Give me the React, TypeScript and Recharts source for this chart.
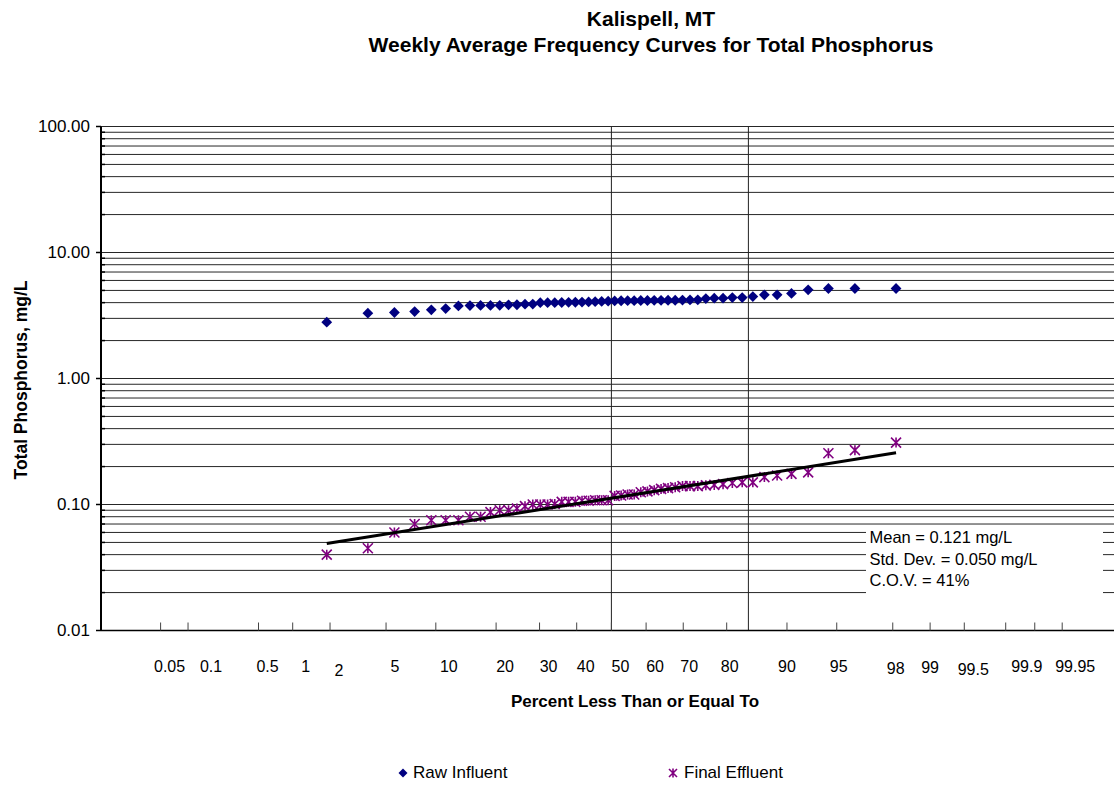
import React from "react";
import { ScatterChart, Scatter, XAxis, YAxis, CartesianGrid, ReferenceLine } from "recharts";

// ---- Data ----
const RAW_INFLUENT = [
  2.80, 3.30, 3.34, 3.40, 3.51, 3.59, 3.77, 3.79, 3.80, 3.80,
  3.81, 3.84, 3.85, 3.89, 3.90, 4.00, 4.00, 4.00, 4.01, 4.02,
  4.03, 4.04, 4.05, 4.07, 4.09, 4.11, 4.13, 4.14, 4.15, 4.15,
  4.16, 4.16, 4.17, 4.17, 4.18, 4.18, 4.19, 4.20, 4.21, 4.31,
  4.34, 4.34, 4.39, 4.39, 4.47, 4.61, 4.61, 4.73, 5.06, 5.18,
  5.18, 5.18,
];
const FINAL_EFFLUENT = [
  0.040, 0.045, 0.060, 0.070, 0.075, 0.075, 0.075, 0.080, 0.080, 0.087,
  0.090, 0.090, 0.093, 0.097, 0.100, 0.100, 0.100, 0.101, 0.105, 0.105,
  0.105, 0.107, 0.107, 0.108, 0.108, 0.108, 0.117, 0.118, 0.120, 0.120,
  0.125, 0.127, 0.130, 0.133, 0.135, 0.137, 0.140, 0.140, 0.140, 0.142,
  0.143, 0.145, 0.148, 0.150, 0.150, 0.165, 0.170, 0.175, 0.180, 0.255,
  0.270, 0.310,
];
// fitted line endpoints (at first and last rank)
const TREND_RANKS = [1, 52];
const TREND_VALUES = [0.049, 0.257];

const X_TICK_PERCENTS = [0.05, 0.1, 0.5, 1, 2, 5, 10, 20, 30, 40, 50, 60, 70, 80, 90, 95, 98, 99, 99.5, 99.8, 99.9, 99.95];
const X_TICK_LABELS = ["0.05", "0.1", "0.5", "1", "2", "5", "10", "20", "30", "40", "50", "60", "70", "80", "90", "95", "98", "99", "99.5", "", "99.9", "99.95"];
const VERTICAL_LINE_PERCENTS = [50, 84.1345];
const Y_DECADES = [0.01, 0.1, 1, 10, 100];
const Y_MINOR_MULTIPLIERS = [2, 3, 4, 5, 6, 7, 8, 9];
const STATS_LINES = ["Mean = 0.121 mg/L", "Std. Dev. = 0.050 mg/L", "C.O.V. = 41%"];

// label placement styling (offsets of each tick label from its tick, px)
const LABEL_DX: Record<string, number> = { "0.1": 23, "1": 13, "10": 13, "70": 6, "80": 3, "90": 0, "95": 2, "98": 3, "99": 0, "99.9": -8, "99.95": 13 };
const LABEL_DY: Record<string, number> = { "2": 4, "98": 2, "99": 1, "99.5": 3 };

// ---- probability scale helper (inverse standard normal CDF, Acklam) ----
function invNorm(p: number): number {
  const a = [-3.969683028665376e1, 2.209460984245205e2, -2.759285104469687e2, 1.38357751867269e2, -3.066479806614716e1, 2.506628277459239];
  const b = [-5.447609879822406e1, 1.615858368580409e2, -1.556989798598866e2, 6.680131188771972e1, -1.328068155288572e1];
  const c = [-7.784894002430293e-3, -3.223964580411365e-1, -2.400758277161838, -2.549732539343734, 4.374664141464968, 2.938163982698783];
  const d = [7.784695709041462e-3, 3.224671290700398e-1, 2.445134137142996, 3.754408661907416];
  const plow = 0.02425;
  if (p < plow) {
    const q = Math.sqrt(-2 * Math.log(p));
    return (((((c[0] * q + c[1]) * q + c[2]) * q + c[3]) * q + c[4]) * q + c[5]) / ((((d[0] * q + d[1]) * q + d[2]) * q + d[3]) * q + 1);
  }
  if (p <= 1 - plow) {
    const q = p - 0.5;
    const r = q * q;
    return ((((((a[0] * r + a[1]) * r + a[2]) * r + a[3]) * r + a[4]) * r + a[5]) * q) / (((((b[0] * r + b[1]) * r + b[2]) * r + b[3]) * r + b[4]) * r + 1);
  }
  const q = Math.sqrt(-2 * Math.log(1 - p));
  return -(((((c[0] * q + c[1]) * q + c[2]) * q + c[3]) * q + c[4]) * q + c[5]) / ((((d[0] * q + d[1]) * q + d[2]) * q + d[3]) * q + 1);
}

const rankZ = (rank: number, n: number) => invNorm(rank / (n + 1));

const rawData = RAW_INFLUENT.map((v, i) => ({ x: rankZ(i + 1, RAW_INFLUENT.length), y: v }));
const effData = FINAL_EFFLUENT.map((v, i) => ({ x: rankZ(i + 1, FINAL_EFFLUENT.length), y: v }));
const trendData = TREND_RANKS.map((r, i) => ({ x: rankZ(r, FINAL_EFFLUENT.length), y: TREND_VALUES[i] }));

const xTicks = X_TICK_PERCENTS.map((p) => invNorm(p / 100));
const yTicks: number[] = [];
Y_DECADES.forEach((d, i) => {
  yTicks.push(d);
  if (i < Y_DECADES.length - 1) Y_MINOR_MULTIPLIERS.forEach((m) => yTicks.push(+(d * m).toPrecision(3)));
});

const FONT = '"Liberation Sans", Arial, Helvetica, sans-serif';
const RAW_COLOR = "#000080";
const EFF_COLOR = "#800080";

const Diamond = (props: any) => {
  const { cx, cy } = props;
  if (cx == null || cy == null) return null;
  const s = 5.4;
  return <polygon points={`${cx},${cy - s} ${cx + s},${cy} ${cx},${cy + s} ${cx - s},${cy}`} fill={RAW_COLOR} />;
};

const Asterisk = (props: any) => {
  const { cx, cy } = props;
  if (cx == null || cy == null) return null;
  const s = 5;
  return (
    <path
      d={`M${cx - s},${cy - s}L${cx + s},${cy + s}M${cx - s},${cy + s}L${cx + s},${cy - s}M${cx},${cy - s}L${cx},${cy + s}`}
      stroke={EFF_COLOR}
      strokeWidth={1.6}
      fill="none"
    />
  );
};

const NoShape = () => null;

const YTick = (props: any) => {
  const { x, y, payload } = props;
  const v = payload.value;
  const isDecade = Y_DECADES.some((d) => Math.abs(d - v) < 1e-9);
  if (isDecade) {
    return (
      <g>
        <line x1={x - 5} y1={y} x2={x} y2={y} stroke="#000" strokeWidth={1.5} />
        <text x={x - 11} y={y} textAnchor="end" dominantBaseline="central" fontFamily={FONT} fontSize={17} fill="#000">
          {v.toFixed(2)}
        </text>
      </g>
    );
  }
  return <line x1={x} y1={y} x2={x + 4} y2={y} stroke="#000" strokeWidth={1.5} />;
};

const XTick = (props: any) => {
  const { x, y, index } = props;
  const label = X_TICK_LABELS[index] ?? "";
  const dx = LABEL_DX[label] ?? 9;
  const dy = LABEL_DY[label] ?? 0;
  return (
    <g>
      <line x1={x} y1={y} x2={x} y2={y - 8} stroke="#444" strokeWidth={1} />
      {label ? (
        <text x={x + dx} y={y + 35.5 + dy} textAnchor="middle" dominantBaseline="central" fontFamily={FONT} fontSize={16} fill="#000">
          {label}
        </text>
      ) : null}
    </g>
  );
};

export default function App() {
  const W = 1114;
  const H = 785;
  const plotTop = 126.5;
  const plotBottom = 630.5;
  const plotLeft = 101;
  const xAxisHeight = 40;
  const pxPerZ = 137;
  const zZeroPx = 611.4;
  const xMin = (plotLeft - zZeroPx) / pxPerZ;
  const xMax = (W - zZeroPx) / pxPerZ;

  return (
    <div style={{ position: "absolute", left: 0, top: 0, width: W, height: H, background: "#fff", fontFamily: FONT, overflow: "hidden" }}>
      <ScatterChart width={W} height={H} margin={{ top: plotTop, right: 0, bottom: H - plotBottom - xAxisHeight, left: 0 }}>
        <CartesianGrid horizontal vertical={false} stroke="#000" strokeWidth={1} strokeOpacity={0.85} />
        <XAxis
          type="number"
          dataKey="x"
          domain={[xMin, xMax]}
          allowDataOverflow
          ticks={xTicks}
          interval={0}
          height={xAxisHeight}
          tickLine={false}
          tickSize={0}
          tickMargin={0}
          axisLine={{ stroke: "#000", strokeWidth: 1.5 }}
          tick={<XTick />}
        />
        <YAxis
          type="number"
          dataKey="y"
          scale="log"
          domain={[0.01, 100]}
          allowDataOverflow
          ticks={yTicks}
          interval={0}
          width={plotLeft}
          tickLine={false}
          tickSize={0}
          tickMargin={0}
          axisLine={{ stroke: "#000", strokeWidth: 2 }}
          tick={<YTick />}
        />
        {VERTICAL_LINE_PERCENTS.map((p, i) => (
          <ReferenceLine key={i} x={invNorm(p / 100)} stroke="#222" strokeWidth={1} ifOverflow="extendDomain" />
        ))}
        <Scatter name="Raw Influent" data={rawData} shape={<Diamond />} isAnimationActive={false} />
        <Scatter name="Final Effluent" data={effData} shape={<Asterisk />} isAnimationActive={false} />
        <Scatter
          name="trend"
          data={trendData}
          shape={<NoShape />}
          line={{ stroke: "#000", strokeWidth: 3 }}
          lineType="joint"
          isAnimationActive={false}
          legendType="none"
        />
      </ScatterChart>

      {/* Title */}
      <div style={{ position: "absolute", left: 301, top: 6, width: 700, textAlign: "center", fontWeight: "bold", fontSize: 21, lineHeight: "26px", color: "#000", whiteSpace: "nowrap" }}>
        <div>Kalispell, MT</div>
        <div>Weekly Average Frequency Curves for Total Phosphorus</div>
      </div>

      {/* Y axis title */}
      <div style={{ position: "absolute", left: 21, top: 380, transform: "translate(-50%, -50%) rotate(-90deg)", fontWeight: "bold", fontSize: 17.5, whiteSpace: "nowrap", color: "#000" }}>
        Total Phosphorus, mg/L
      </div>

      {/* X axis title */}
      <div style={{ position: "absolute", left: 635, top: 702, transform: "translate(-50%, -50%)", fontWeight: "bold", fontSize: 17, whiteSpace: "nowrap", color: "#000" }}>
        Percent Less Than or Equal To
      </div>

      {/* Stats text box */}
      <div style={{ position: "absolute", left: 866, top: 527, width: 237, height: 72, background: "#fff", paddingLeft: 3.5, boxSizing: "border-box", fontSize: 16.5, lineHeight: "21.7px", color: "#000", whiteSpace: "nowrap" }}>
        {STATS_LINES.map((s, i) => (
          <div key={i}>{s}</div>
        ))}
      </div>

      {/* Legend */}
      <div style={{ position: "absolute", left: 0, top: 762, width: W, height: 22, fontSize: 17, color: "#000" }}>
        <svg style={{ position: "absolute", left: 398, top: 6 }} width={10} height={10}>
          <polygon points="5,0.5 9.5,5 5,9.5 0.5,5" fill={RAW_COLOR} />
        </svg>
        <span style={{ position: "absolute", left: 413, top: 0, lineHeight: "22px", whiteSpace: "nowrap" }}>Raw Influent</span>
        <svg style={{ position: "absolute", left: 668, top: 6 }} width={10} height={10}>
          <path d="M1,1L9,9M1,9L9,1M5,0.5L5,9.5" stroke={EFF_COLOR} strokeWidth={1.6} fill="none" />
        </svg>
        <span style={{ position: "absolute", left: 684, top: 0, lineHeight: "22px", whiteSpace: "nowrap" }}>Final Effluent</span>
      </div>
    </div>
  );
}
